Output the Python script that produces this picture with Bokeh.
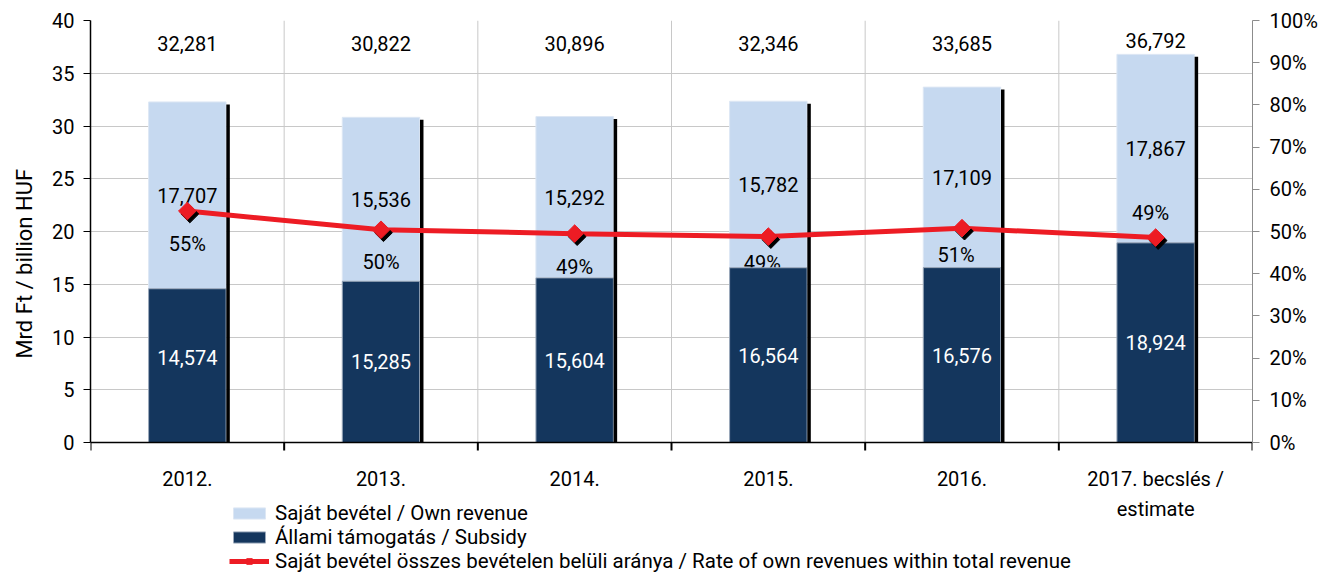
import math
from bokeh.plotting import figure
from bokeh.models import (Range1d, LinearAxis, FixedTicker, NumeralTickFormatter,
                          Legend, LegendItem, ColumnDataSource)
from bokeh.core.properties import value
from bokeh.embed import file_html
from bokeh.resources import INLINE

# ---------------- data ----------------
categories = ["2012.", "2013.", "2014.", "2015.", "2016.", "2017. becslés /\nestimate"]
own_revenue = [17.707, 15.536, 15.292, 15.782, 17.109, 17.867]      # Mrd Ft
subsidy = [14.574, 15.285, 15.604, 16.564, 16.576, 18.924]          # Mrd Ft
totals = [32.281, 30.822, 30.896, 32.346, 33.685, 36.792]           # Mrd Ft
own_rate = [0.5485, 0.5041, 0.4949, 0.4879, 0.5079, 0.4856]        # share of own revenue
rate_labels = ["55%", "50%", "49%", "49%", "51%", "49%"]
left_ticks = [0, 5, 10, 15, 20, 25, 30, 35, 40]
right_ticks = [0.0, 0.1, 0.2, 0.3, 0.4, 0.5, 0.6, 0.7, 0.8, 0.9, 1.0]
y_title = "Mrd Ft / billion HUF"
legend_labels = ["Saját bevétel / Own revenue",
                 "Állami támogatás / Subsidy",
                 "Saját bevétel összes bevételen belüli aránya / Rate of own revenues within total revenue"]

# ---------------- styling ----------------
FONT = "Roboto"
LIGHT = "#C6D9F0"
DARK = "#14365D"
RED = "#ED1C24"
GRID = "#C8C8C8"
N = len(categories)
FW = 1162            # frame width (px)
PLOT_H = 422         # height of the value area (px)
BELOW = 130          # space under the zero line kept inside the frame (px)
FH = PLOT_H + BELOW
PX = N / FW          # data-x per pixel
PY = 40.0 / PLOT_H   # data-y per pixel
PP = 1.0 / PLOT_H    # pct per pixel
BAR_W = 0.4

centers = [i + 0.5 for i in range(N)]
bounds = list(range(N + 1))

p = figure(frame_width=FW, frame_height=FH,
           x_range=Range1d(0, N), y_range=Range1d(-BELOW * PY, 40),
           x_axis_location=None,
           output_backend="svg", toolbar_location=None,
           min_border_left=90, min_border_right=71,
           min_border_top=20, min_border_bottom=0)
p.extra_y_ranges = {"pct": Range1d(-BELOW * PP, 1)}
p.outline_line_color = None
p.background_fill_color = "white"

# left axis
ya = p.yaxis[0]
ya.ticker = FixedTicker(ticks=left_ticks)
ya.bounds = (0, 40)
ya.axis_line_color = "black"
ya.axis_line_width = 1.5
ya.major_tick_line_color = "black"
ya.major_tick_out = 7
ya.major_tick_in = 0
ya.minor_tick_line_color = None
ya.major_label_text_font = FONT
ya.major_label_text_font_size = "20px"
ya.major_label_text_color = "black"
ya.major_label_standoff = 9
# leading no-break spaces lift the title to the centre of the value area
ya.axis_label = "\u00a0" * 12 + y_title
ya.axis_label_text_font = FONT
ya.axis_label_text_font_size = "22px"
ya.axis_label_text_font_style = "normal"
ya.axis_label_text_color = "black"
ya.axis_label_standoff = 12

# right axis
ra = LinearAxis(y_range_name="pct", ticker=FixedTicker(ticks=right_ticks),
                formatter=NumeralTickFormatter(format="0%"), bounds=(0, 1))
ra.axis_line_color = "#8C8C8C"
ra.major_tick_line_color = "#8C8C8C"
ra.major_tick_out = 7
ra.major_tick_in = 0
ra.minor_tick_line_color = None
ra.major_label_text_font = FONT
ra.major_label_text_font_size = "20px"
ra.major_label_text_color = "black"
ra.major_label_standoff = 10
p.add_layout(ra, "right")

p.ygrid.grid_line_color = GRID
p.ygrid.ticker = FixedTicker(ticks=left_ticks)
p.xgrid.grid_line_color = None

# vertical grid lines at category boundaries (value area only)
p.segment(x0=bounds[1:-1], y0=0, x1=bounds[1:-1], y1=40, line_color=GRID, line_width=1)

# ---------------- bars ----------------
src = ColumnDataSource(dict(
    x=centers, own=own_revenue, sub=subsidy, tot=totals,
    top_own=[s + o for s, o in zip(subsidy, own_revenue)],
))
light = p.vbar(x="x", width=BAR_W, bottom="sub", top="top_own", source=src,
               fill_color=LIGHT, line_color="#DDE7F4", line_width=1)

# rate labels (drawn under the subsidy bar as in the original)
p.text(x=centers, y=own_rate, text=rate_labels, y_range_name="pct",
       x_offset=[0, 0, 0, -6, -6, -5], y_offset=[33, 32, 33, 26, 27, -25],
       text_font=value(FONT), text_font_size=value("20px"),
       text_align="center", text_baseline="middle", text_color="black")

dark = p.vbar(x="x", width=BAR_W, bottom=0, top="sub", source=src,
              fill_color=DARK, line_color="#9AA8BA", line_width=1)

# black shadow strip on right of each bar
p.vbar(x=[c + BAR_W / 2 + 2.0 * PX for c in centers], width=3.5 * PX,
       bottom=0, top=[t - 2.5 * PY for t in totals],
       fill_color="black", line_color=None)

# x axis line and boundary ticks
p.segment(x0=0, y0=0, x1=N, y1=0, line_color="black", line_width=1.5)
p.segment(x0=bounds, y0=0, x1=bounds, y1=-8 * PY, line_color="black", line_width=2)

# value labels
p.text(x=centers, y=[s + o / 2 for s, o in zip(subsidy, own_revenue)],
       text=[f"{v * 1000:,.0f}" for v in own_revenue],
       text_font=value(FONT), text_font_size=value("20px"),
       text_align="center", text_baseline="middle", text_color="black")
p.text(x=centers, y=[s / 2 for s in subsidy], y_offset=[-8, 0, 0, 0, 0, 0],
       text=[f"{v * 1000:,.0f}" for v in subsidy],
       text_font=value(FONT), text_font_size=value("20px"),
       text_align="center", text_baseline="middle", text_color="white")
p.text(x=centers, y=[40 - 23 * PY] * N,
       y_offset=[0, 0, 0, 0, 0, -3],
       text=[f"{v * 1000:,.0f}" for v in totals],
       text_font=value(FONT), text_font_size=value("20px"),
       text_align="center", text_baseline="middle", text_color="black")

# category labels below the zero line
cat_x, cat_y, cat_t = [], [], []
for c, cat in zip(centers, categories):
    for j, line in enumerate(cat.split("\n")):
        cat_x.append(c)
        cat_y.append(-(36 + 30 * j) * PY)
        cat_t.append(line)
p.text(x=cat_x, y=cat_y, text=cat_t,
       text_font=value(FONT), text_font_size=value("20px"),
       text_align="center", text_baseline="middle", text_color="black")

# ---------------- rate line ----------------
line_r = p.line(x=centers, y=own_rate, y_range_name="pct", line_color=RED, line_width=5)
p.scatter(x=[c + 2.5 * PX for c in centers], y=[r - 3 * PP for r in own_rate],
          y_range_name="pct", marker="square", angle=math.pi / 4, size=12.5,
          fill_color="black", line_color="black")
mark_r = p.scatter(x=centers, y=own_rate, y_range_name="pct", marker="square",
                   angle=math.pi / 4, size=12.5, fill_color=RED, line_color=RED)

# ---------------- legend ----------------
legend = Legend(items=[
    LegendItem(label=legend_labels[0], renderers=[light]),
    LegendItem(label=legend_labels[1], renderers=[dark]),
    LegendItem(label=legend_labels[2], renderers=[line_r, mark_r]),
], location=(139, -1))
legend.label_text_font = FONT
legend.label_text_font_size = "20.5px"
legend.label_text_color = "black"
legend.label_height = 21
legend.glyph_height = 14
legend.glyph_width = 40
legend.label_standoff = 6
legend.spacing = 0
legend.padding = 0
legend.margin = 0
legend.border_line_color = None
legend.background_fill_alpha = 0
p.add_layout(legend, "center")

open("out.html", "w").write(file_html(p, INLINE))
